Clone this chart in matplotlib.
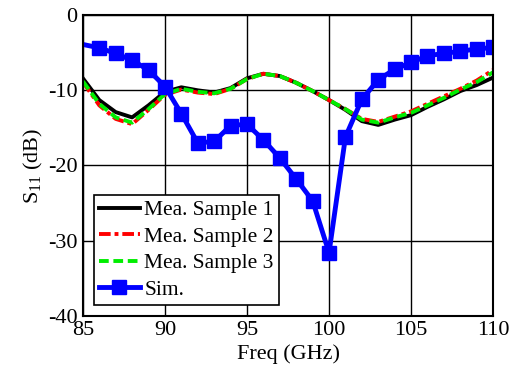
import matplotlib
matplotlib.use("Agg")
import matplotlib.pyplot as plt

plt.rcParams['font.family'] = ['Liberation Serif', 'DejaVu Serif']
plt.rcParams['mathtext.fontset'] = 'custom'
plt.rcParams['mathtext.rm'] = 'Liberation Serif'
plt.rcParams['mathtext.it'] = 'Liberation Serif:italic'
plt.rcParams['axes.unicode_minus'] = False

freq = [85, 86, 87, 88, 89, 90, 91, 92, 93, 94, 95, 96, 97, 98, 99, 100,
        101, 102, 103, 104, 105, 106, 107, 108, 109, 110]
mea1 = [-8.4, -11.3, -12.9, -13.6, -12.0, -10.2, -9.6, -10.0, -10.3, -9.7, -8.4, -7.8, -8.1,
        -9.0, -10.1, -11.3, -12.6, -14.1, -14.6, -13.9, -13.3, -12.2, -11.2, -10.1, -9.3, -8.3]
mea2 = [-8.9, -12.0, -13.8, -14.5, -12.6, -10.6, -9.9, -10.3, -10.5, -9.8, -8.5, -7.8, -8.1,
        -9.0, -10.1, -11.3, -12.5, -13.8, -14.2, -13.5, -12.8, -11.8, -10.8, -9.8, -8.7, -7.3]
mea3 = [-8.8, -11.8, -13.6, -14.3, -12.5, -10.5, -9.8, -10.2, -10.4, -9.8, -8.5, -7.8, -8.1,
        -9.0, -10.1, -11.3, -12.5, -13.9, -14.3, -13.6, -13.0, -12.0, -11.0, -9.9, -8.9, -7.6]
sim = [-3.9, -4.35, -5.1, -6.0, -7.3, -9.5, -13.1, -17.0, -16.8, -14.7, -14.5, -16.6, -19.0,
       -21.8, -24.7, -31.6, -16.2, -11.2, -8.6, -7.2, -6.3, -5.4, -5.1, -4.8, -4.5, -4.3]

fig = plt.figure(figsize=(5.18, 3.69), dpi=100)
ax = fig.add_axes([0.160, 0.144, 0.792, 0.815])

ax.plot(freq, mea1, color='black', lw=2.8, label='Mea. Sample 1')
ax.plot(freq, mea2, color='red', lw=2.8, ls=(0, (3, 1, 1, 1)), label='Mea. Sample 2')
ax.plot(freq, mea3, color='#00ee00', lw=2.8, ls=(0, (2.5, 1.2)), label='Mea. Sample 3')
ax.plot(freq, sim, color='blue', lw=3.5, marker='s', ms=10, markevery=slice(1, None),
        label='Sim.')

ax.set_xlim(85, 110)
ax.set_ylim(-40, 0)
ax.set_xticks([85, 90, 95, 100, 105, 110])
ax.set_yticks([0, -10, -20, -30, -40])
ax.grid(True, color='black', lw=1)
ax.tick_params(length=0, labelsize=16, pad=4)
for s in ax.spines.values():
    s.set_linewidth(1.5)
ax.set_xlabel('Freq (GHz)', fontsize=16, labelpad=3)
ax.set_ylabel('S$_{11}$ (dB)', fontsize=16, labelpad=2)

leg = ax.legend(loc='lower left', fontsize=15.5, frameon=True, fancybox=False,
                edgecolor='black', framealpha=1, handlelength=1.9, handletextpad=0.2,
                borderpad=0.25, labelspacing=0.3, borderaxespad=0.5)
leg.get_frame().set_linewidth(1.2)

fig.savefig('out.png', dpi=100)
